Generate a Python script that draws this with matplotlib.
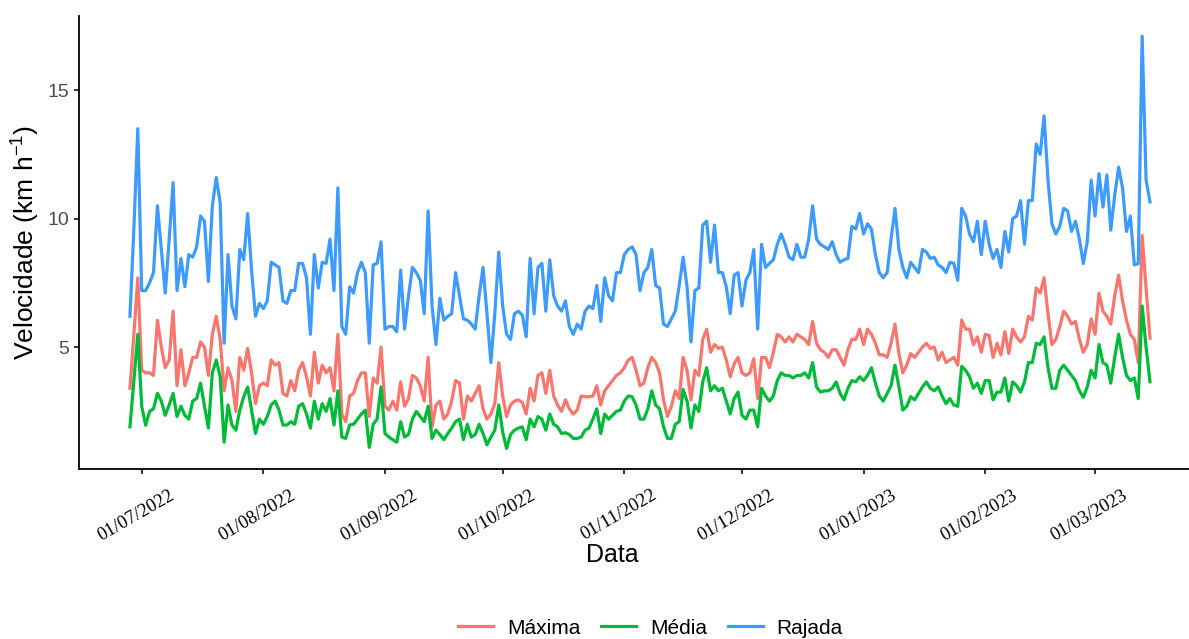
import matplotlib
matplotlib.use("Agg")
import matplotlib.pyplot as plt
import matplotlib.dates as mdates
from matplotlib.transforms import ScaledTranslation
import pandas as pd

plt.rcParams['font.family'] = ['Liberation Sans', 'DejaVu Sans']
plt.rcParams['mathtext.fontset'] = 'custom'
plt.rcParams['mathtext.rm'] = 'Liberation Sans'

# velocidade do vento diaria (km/h), a partir de 28/06/2022
maxima = [
    3.4, 5.5, 7.7, 4.1, 4.0, 4.0, 3.9, 6.05, 5.0, 4.2,
    4.5, 6.4, 3.5, 4.9, 3.5, 4.0, 4.6, 4.6, 5.2, 5.0,
    3.9, 5.5, 6.2, 5.3, 3.3, 4.2, 3.7, 2.5, 4.6, 4.1,
    4.95, 4.0, 2.8, 3.5, 3.6, 3.5, 4.5, 4.3, 4.4, 3.2,
    3.1, 3.7, 3.3, 4.1, 4.4, 3.85, 3.1, 4.8, 3.6, 4.3,
    4.0, 4.2, 3.3, 5.5, 2.4, 2.1, 3.1, 3.2, 3.7, 4.0,
    4.0, 2.3, 3.8, 3.6, 5.0, 2.7, 2.55, 2.9, 2.55, 3.65,
    2.7, 3.0, 3.9, 3.8, 3.5, 2.9, 4.6, 1.9, 2.75, 2.9,
    2.2, 2.4, 2.9, 3.7, 3.6, 2.2, 3.1, 2.9, 3.2, 3.5,
    2.6, 2.2, 2.4, 2.8, 4.4, 3.1, 2.3, 2.75, 2.9, 2.95,
    2.85, 2.4, 3.4, 2.9, 3.9, 4.0, 3.2, 4.1, 3.1, 2.75,
    2.5, 2.95, 2.6, 2.4, 2.55, 3.1, 3.07, 3.07, 3.1, 3.5,
    2.75, 3.3, 3.5, 3.7, 3.9, 4.0, 4.2, 4.5, 4.6, 4.1,
    3.5, 3.6, 4.2, 4.6, 4.4, 4.0, 2.95, 2.3, 2.7, 3.3,
    3.0, 4.6, 4.1, 2.95, 4.1, 3.9, 5.3, 5.7, 4.8, 5.1,
    4.95, 5.0, 4.5, 3.85, 4.35, 4.6, 4.0, 3.9, 4.0, 4.55,
    3.0, 4.6, 4.6, 4.2, 4.8, 5.5, 5.4, 5.2, 5.4, 5.2,
    5.5, 5.4, 5.3, 5.1, 6.0, 5.15, 4.9, 4.8, 4.6, 4.9,
    4.9, 4.6, 4.3, 4.9, 5.3, 5.3, 5.7, 5.1, 5.7, 5.5,
    5.15, 4.7, 4.7, 4.6, 5.15, 5.9, 4.75, 4.0, 4.3, 4.75,
    4.6, 4.8, 5.0, 5.15, 4.95, 5.0, 4.5, 4.8, 4.4, 4.5,
    4.6, 4.3, 6.05, 5.7, 5.7, 5.1, 5.4, 4.8, 5.5, 5.45,
    4.6, 5.15, 4.7, 5.6, 4.75, 5.7, 5.4, 5.2, 5.4, 6.2,
    6.05, 7.3, 7.1, 7.7, 6.3, 5.1, 5.3, 5.8, 6.4, 6.2,
    5.9, 6.0, 5.3, 4.8, 5.1, 6.1, 5.5, 7.1, 6.4, 6.2,
    5.9, 7.0, 7.8, 6.8, 6.05, 5.5, 5.3, 4.4, 9.35, 7.3,
    5.35,
]

media = [
    1.9, 3.7, 5.5, 2.7, 1.96, 2.5, 2.6, 3.2, 2.9, 2.35,
    2.75, 3.2, 2.3, 2.7, 2.35, 2.2, 2.9, 3.0, 3.6, 2.7,
    1.85, 4.0, 4.5, 3.85, 1.3, 2.75, 1.97, 1.77, 2.55, 3.07,
    3.45, 2.55, 1.64, 2.2, 2.0, 2.3, 2.75, 2.9, 2.55, 1.97,
    1.97, 2.1, 2.0, 2.7, 2.8, 2.4, 1.85, 2.9, 2.2, 2.8,
    2.5, 3.0, 1.97, 3.3, 1.5, 1.45, 1.97, 2.0, 2.2, 2.4,
    2.55, 1.1, 2.0, 2.2, 3.45, 1.64, 1.5, 1.4, 1.3, 2.1,
    1.5, 1.6, 2.2, 2.5, 2.3, 2.1, 2.7, 1.45, 1.77, 1.6,
    1.4, 1.64, 1.85, 2.1, 2.2, 1.4, 2.0, 1.5, 1.6, 2.0,
    1.64, 1.2, 1.5, 1.77, 2.75, 1.7, 1.06, 1.6, 1.77, 1.85,
    1.9, 1.4, 2.2, 1.9, 2.3, 2.2, 1.77, 2.4, 2.0, 1.9,
    1.64, 1.67, 1.6, 1.45, 1.45, 1.5, 1.77, 1.85, 2.2, 2.6,
    1.64, 2.4, 2.2, 2.35, 2.5, 2.55, 2.9, 3.1, 3.07, 2.75,
    2.2, 2.2, 2.6, 3.3, 2.75, 2.6, 1.9, 1.45, 1.45, 2.0,
    2.1, 3.35, 2.9, 1.85, 2.75, 2.5, 3.65, 4.2, 3.3, 3.5,
    3.3, 3.4, 2.9, 2.4, 3.0, 3.25, 2.35, 2.2, 2.55, 2.55,
    1.9, 3.4, 3.1, 2.9, 3.1, 3.7, 4.0, 3.9, 3.9, 3.8,
    3.9, 3.9, 4.0, 3.8, 4.4, 3.45, 3.25, 3.3, 3.3, 3.4,
    3.65, 3.2, 2.95, 3.4, 3.7, 3.65, 3.85, 3.7, 3.9, 4.2,
    3.6, 3.1, 2.9, 3.2, 3.5, 4.3, 3.45, 2.55, 2.7, 3.07,
    2.95, 3.2, 3.45, 3.65, 3.4, 3.3, 3.45, 3.1, 2.8, 3.0,
    2.75, 2.7, 4.25, 4.1, 3.85, 3.4, 3.6, 3.2, 3.7, 3.7,
    2.95, 3.25, 3.25, 3.8, 2.9, 3.65, 3.5, 3.25, 3.65, 4.4,
    4.4, 5.15, 5.1, 5.4, 4.2, 3.4, 3.4, 4.1, 4.3, 4.1,
    3.9, 3.7, 3.3, 3.05, 3.45, 4.1, 3.8, 5.1, 4.4, 4.3,
    3.6, 4.6, 5.5, 4.6, 3.9, 3.7, 3.8, 3.0, 6.6, 5.0,
    3.65,
]

rajada = [
    6.2, 9.6, 13.5, 7.2, 7.2, 7.5, 7.9, 10.5, 8.8, 7.1,
    9.2, 11.4, 7.2, 8.45, 7.35, 8.6, 8.5, 8.9, 10.1, 9.9,
    7.55, 10.5, 11.6, 10.6, 5.15, 8.6, 6.6, 6.1, 8.8, 8.4,
    10.2, 8.0, 6.2, 6.7, 6.5, 6.8, 8.3, 8.2, 8.1, 6.8,
    6.7, 7.2, 7.2, 8.26, 8.26, 7.7, 5.5, 8.6, 7.3, 8.3,
    8.26, 9.2, 7.2, 11.2, 5.8, 5.5, 7.35, 7.1, 7.9, 8.3,
    7.9, 5.15, 8.2, 8.26, 9.1, 5.7, 5.8, 5.8, 5.6, 8.0,
    5.7, 7.0, 8.1, 7.9, 7.6, 6.3, 10.3, 6.6, 5.1, 6.9,
    6.05, 6.2, 6.3, 7.9, 7.0, 6.1, 6.05, 5.9, 5.7, 7.0,
    8.1, 6.3, 4.4, 6.3, 8.7, 6.6, 5.5, 5.3, 6.3, 6.4,
    6.25, 5.4, 8.45, 6.3, 8.1, 8.26, 6.4, 8.4, 7.0, 6.6,
    6.4, 6.8, 5.8, 5.5, 5.9, 5.7, 6.4, 6.6, 6.5, 7.4,
    6.0, 7.7, 7.0, 6.8, 7.9, 7.9, 8.6, 8.8, 8.9, 8.6,
    7.2, 7.9, 8.1, 8.8, 7.4, 7.3, 5.9, 5.8, 6.1, 6.4,
    7.4, 8.5, 7.35, 5.2, 7.2, 7.3, 9.75, 9.9, 8.3, 9.75,
    7.9, 7.9, 7.35, 6.3, 7.8, 7.9, 6.6, 7.6, 7.9, 8.8,
    5.7, 9.0, 8.1, 8.26, 8.4, 9.0, 9.4, 9.0, 8.5, 8.4,
    9.0, 8.5, 8.5, 9.2, 10.5, 9.2, 9.0, 8.9, 8.8, 9.1,
    8.6, 8.3, 8.4, 8.45, 9.7, 9.6, 10.2, 9.4, 9.8, 9.6,
    8.6, 7.9, 7.7, 7.9, 9.2, 10.4, 8.8, 8.1, 7.7, 8.3,
    8.1, 7.9, 8.8, 8.7, 8.45, 8.5, 8.2, 8.1, 7.9, 8.3,
    8.26, 7.6, 10.4, 10.1, 9.4, 9.1, 9.9, 8.6, 9.9, 9.0,
    8.45, 8.8, 8.1, 9.5, 8.7, 10.0, 10.1, 10.7, 9.0, 10.7,
    10.7, 12.9, 12.5, 14.0, 11.5, 9.8, 9.4, 9.7, 10.4, 10.3,
    9.5, 9.9, 9.2, 8.25, 9.1, 11.5, 10.1, 11.75, 10.45, 11.7,
    9.55, 10.9, 12.0, 11.2, 9.5, 10.1, 8.2, 8.25, 17.1, 11.5,
    10.65,
]

series = ["Máxima", "Média", "Rajada"]
colors = ["#F8766D", "#00BA38", "#3D9BFF"]
month_ticks = ["2022-07-01", "2022-08-01", "2022-09-01", "2022-10-01", "2022-11-01",
               "2022-12-01", "2023-01-01", "2023-02-01", "2023-03-01"]

df = pd.DataFrame({"Máxima": maxima, "Média": media, "Rajada": rajada})
df.index = pd.date_range("2022-06-28", periods=len(df), freq="D")

fig = plt.figure(figsize=(11.89, 6.39), dpi=100)
ax = fig.add_axes([0.0664, 0.266, 0.9437, 0.7097])

for name, col in zip(series, colors):
    ax.plot(df.index, df[name], color=col, lw=2.3, label=name, solid_joinstyle="round")

# margens de 5% como no ggplot
x0, x1 = mdates.date2num(df.index[0]), mdates.date2num(df.index[-1])
ax.set_xlim(x0 - 0.05 * (x1 - x0), x1 + 0.05 * (x1 - x0))
lo, hi = df.min().min(), df.max().max()
ax.set_ylim(lo - 0.05 * (hi - lo), hi + 0.05 * (hi - lo))

ax.set_yticks([5, 10, 15])
ax.set_xticks(pd.to_datetime(month_ticks))
ax.xaxis.set_major_formatter(mdates.DateFormatter("%d/%m/%Y"))

for side in ["top", "right"]:
    ax.spines[side].set_visible(False)
for side in ["left", "bottom"]:
    ax.spines[side].set_linewidth(1.3)

ax.tick_params(axis="y", labelsize=14, labelcolor="#4D4D4D", length=3.8, width=1.1, pad=3.5)
ax.tick_params(axis="x", length=3.8, width=1.1, pad=9)
for lab in ax.get_xticklabels():
    lab.set_family("Liberation Serif")
    lab.set_fontsize(13.5)
    lab.set_rotation(30)
    lab.set_ha("center")
    lab.set_transform(lab.get_transform() + ScaledTranslation(-0.06, 0, fig.dpi_scale_trans))

ax.set_ylabel("Velocidade (km h$^{\\mathrm{-1}}$)", fontsize=19)
ax.yaxis.set_label_coords(-0.034, 0.5)
ax.set_xlabel("Data", fontsize=18)
ax.xaxis.set_label_coords((612 - 79) / (1201 - 79), -0.163)

fig.legend(loc="center", bbox_to_anchor=(0.547, 0.017), ncol=3, frameon=False,
           fontsize=15, handlelength=1.7, columnspacing=1.0, handletextpad=0.65)

fig.savefig("out.png", dpi=100)
